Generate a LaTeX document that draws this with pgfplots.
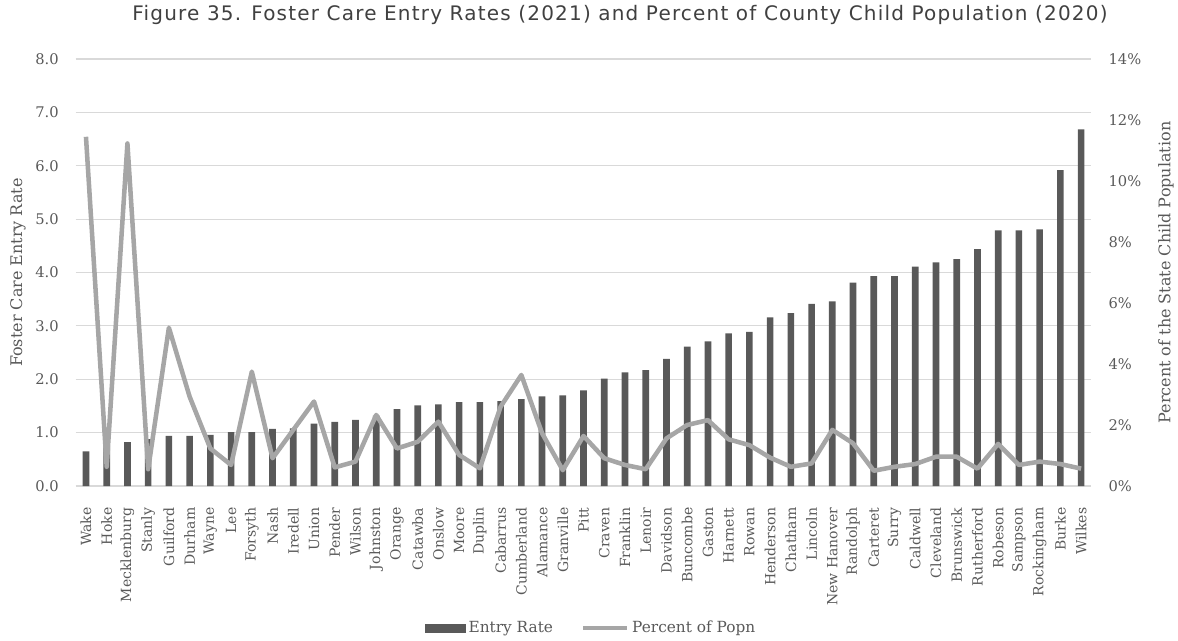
\documentclass[border=0pt]{standalone}
\usepackage{pgfplots}
\pgfplotsset{compat=1.18}
\usepackage{pgfplotstable}
\usepackage{fontspec}
\setmainfont{DejaVu Serif}
\newfontfamily\titlefont[LetterSpace=6]{DejaVu Sans}
\definecolor{barc}{HTML}{595959}
\definecolor{linec}{HTML}{A6A6A6}
\definecolor{gridc}{HTML}{D9D9D9}
\definecolor{txtc}{HTML}{595959}
\definecolor{titc}{HTML}{404040}

\pgfplotstableread{
idx rate pct
0 0.65 11.45
1 0.73 0.63
2 0.82 11.23
3 0.88 0.55
4 0.94 5.19
5 0.94 2.93
6 0.96 1.23
7 1.01 0.69
8 1.01 3.75
9 1.07 0.91
10 1.08 1.84
11 1.17 2.77
12 1.20 0.61
13 1.24 0.80
14 1.32 2.33
15 1.44 1.23
16 1.51 1.45
17 1.53 2.11
18 1.57 1.02
19 1.57 0.58
20 1.59 2.60
21 1.63 3.64
22 1.68 1.73
23 1.70 0.52
24 1.79 1.64
25 2.01 0.91
26 2.13 0.69
27 2.17 0.55
28 2.38 1.56
29 2.61 2.00
30 2.71 2.16
31 2.86 1.53
32 2.89 1.34
33 3.16 0.93
34 3.24 0.63
35 3.41 0.74
36 3.46 1.84
37 3.81 1.40
38 3.93 0.50
39 3.93 0.63
40 4.11 0.72
41 4.19 0.96
42 4.25 0.96
43 4.44 0.57
44 4.79 1.38
45 4.79 0.69
46 4.81 0.80
47 5.92 0.72
48 6.68 0.57
}\datatable

\begin{document}
\begin{tikzpicture}
\useasboundingbox (-56.7pt,-115.5pt) rectangle (826.8pt,364.5pt);
\node[font=\titlefont\fontsize{15pt}{17pt}\selectfont, text=titc, anchor=center] at (408.3pt,353.2pt)
  {Figure 35. Foster Care Entry Rates (2021) and Percent of County Child Population (2020)};
\begin{axis}[
  at={(0pt,0pt)}, anchor=south west,
  scale only axis, width=761.9pt, height=320.25pt,
  xmin=-0.5, xmax=48.5, ymin=0, ymax=8,
  axis line style={draw=none},
  tick style={draw=none},
  ymajorgrids, major grid style={gridc, line width=0.8pt},
  ytick={0,1,...,8},
  yticklabels={0.0,1.0,2.0,3.0,4.0,5.0,6.0,7.0,8.0},
  yticklabel style={font=\fontsize{11pt}{13pt}\selectfont, text=txtc, inner sep=0pt, anchor=east, xshift=-12.5pt},
  xtick={0,...,48},
  xticklabels={Wake,Hoke,Mecklenburg,Stanly,Guilford,Durham,Wayne,Lee,Forsyth,Nash,Iredell,Union,Pender,Wilson,Johnston,Orange,Catawba,Onslow,Moore,Duplin,Cabarrus,Cumberland,Alamance,Granville,Pitt,Craven,Franklin,Lenoir,Davidson,Buncombe,Gaston,Harnett,Rowan,Henderson,Chatham,Lincoln,New Hanover,Randolph,Carteret,Surry,Caldwell,Cleveland,Brunswick,Rutherford,Robeson,Sampson,Rockingham,Burke,Wilkes},
  xticklabel style={font=\fontsize{10.5pt}{12pt}\selectfont, text=txtc, inner sep=0pt, yshift=-11.8pt, rotate=90, anchor=east},
  ylabel={Foster Care Entry Rate},
  ylabel style={font=\fontsize{12pt}{14pt}\selectfont, text=txtc, at={(axis description cs:-0.0567,0.5)}, anchor=center},
  ybar, bar width=5pt,
]
\addplot[fill=barc, draw=none] table[x=idx, y=rate] {\datatable};
\end{axis}
\begin{axis}[
  at={(0pt,0pt)}, anchor=south west,
  scale only axis, width=761.9pt, height=320.25pt,
  xmin=-0.5, xmax=48.5, ymin=0, ymax=14,
  axis x line=none,
  axis y line*=right,
  axis line style={draw=none},
  tick style={draw=none},
  ytick={0,2,...,14},
  yticklabels={0\%,2\%,4\%,6\%,8\%,10\%,12\%,14\%},
  yticklabel style={font=\fontsize{11pt}{13pt}\selectfont, text=txtc, inner sep=0pt, anchor=west, xshift=12.7pt},
  ylabel={Percent of the State Child Population},
  ylabel style={font=\fontsize{12pt}{14pt}\selectfont, text=txtc, at={(axis description cs:1.0734,0.5)}, anchor=center},
  legend columns=2,
  legend style={at={(axis description cs:0.508,-0.3326)}, anchor=center, draw=none, fill=none,
    font=\fontsize{11.5pt}{13pt}\selectfont, text=txtc,
    /tikz/every even column/.append style={column sep=19pt}},
]
\addlegendimage{legend image code/.code={\fill[barc] (0pt,-3pt) rectangle (30pt,3pt);}}
\addlegendentry{Entry Rate}
\addplot[linec, line width=3.4pt, line join=round, no markers,
  legend image code/.code={\draw[linec, line width=3.4pt] (0pt,0pt) -- (33pt,0pt);}]
  table[x=idx, y=pct] {\datatable};
\addlegendentry{Percent of Popn}
\end{axis}
\end{tikzpicture}
\end{document}
